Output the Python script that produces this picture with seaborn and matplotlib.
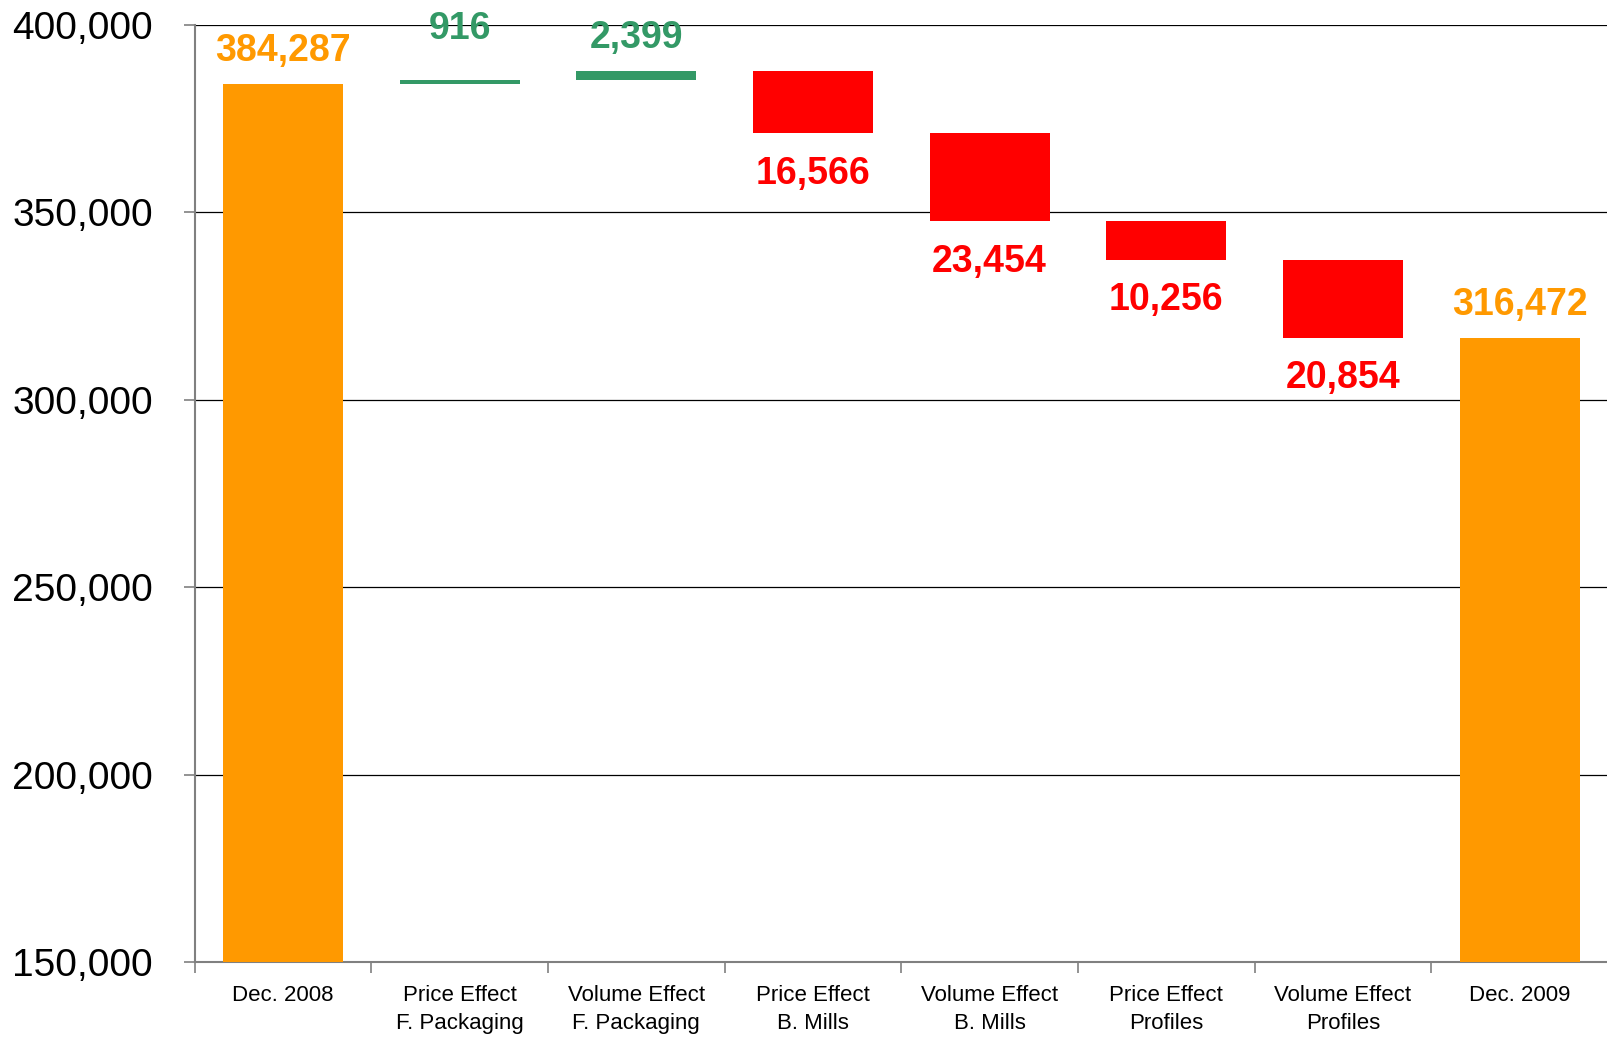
import matplotlib
matplotlib.use("Agg")
import matplotlib.pyplot as plt
import seaborn as sns
import numpy as np
import pandas as pd

categories = ["Dec. 2008", "Price Effect\nF. Packaging", "Volume Effect\nF. Packaging",
              "Price Effect\nB. Mills", "Volume Effect\nB. Mills", "Price Effect\nProfiles",
              "Volume Effect\nProfiles", "Dec. 2009"]
start_value = 384287
changes = [916, 2399, -16566, -23454, -10256, -20854]
end_value = 316472
y_ticks = [150000, 200000, 250000, 300000, 350000, 400000]

ORANGE = "#FF9900"
GREEN = "#339966"
RED = "#FF0000"

# build bar bottoms/heights for the waterfall
bottoms, heights, kinds = [0], [start_value], ["total"]
running = start_value
for c in changes:
    if c >= 0:
        bottoms.append(running)
        heights.append(c)
        kinds.append("up")
    else:
        bottoms.append(running + c)
        heights.append(-c)
        kinds.append("down")
    running += c
bottoms.append(0)
heights.append(end_value)
kinds.append("total")
labels = [start_value] + [abs(c) for c in changes] + [end_value]

df = pd.DataFrame({"cat": categories, "bottom": bottoms, "height": heights,
                   "kind": kinds, "label": labels})
colors = {"total": ORANGE, "up": GREEN, "down": RED}

plt.rcParams['font.family'] = ['Liberation Sans', 'DejaVu Sans']
fig = plt.figure(figsize=(16.08, 10.37), dpi=100)
ax = fig.add_axes([0.121, 0.072, 0.879, 0.904])

for i, row in df.iterrows():
    sns.barplot(x=[row["cat"]], y=[row["height"]], order=categories, bottom=row["bottom"],
                color=colors[row["kind"]], saturation=1, width=0.68, errorbar=None,
                ax=ax, zorder=3, linewidth=0)
    top = row["bottom"] + row["height"]
    txt = f"{row['label']:,}"
    if row["kind"] == "down":
        ax.annotate(txt, (i, row["bottom"]), xytext=(0, -16), textcoords="offset points",
                    ha="center", va="top", fontsize=27, fontweight="bold",
                    color=colors[row["kind"]], zorder=4)
    else:
        # tiny bars get their label pushed a little higher, as in the original
        lift = 24 if row["height"] < 1500 else 11
        ax.annotate(txt, (i, top), xytext=(0, lift), textcoords="offset points",
                    ha="center", va="bottom", fontsize=27, fontweight="bold",
                    color=colors[row["kind"]], zorder=4)

ax.set_ylim(150000, 400000)
ax.set_xlim(-0.5, len(categories) - 0.5)
ax.set_yticks(y_ticks)
ax.set_yticklabels([f"{v:,}" for v in y_ticks], fontsize=28)
ax.yaxis.grid(True, color="black", linewidth=0.9)
ax.set_axisbelow(True)

# category boundary ticks, labels centred on bars
ax.set_xticks(np.arange(-0.5, len(categories), 1.0))
ax.set_xticklabels([])
ax.set_xticks(np.arange(len(categories)), minor=True)
ax.set_xticklabels(categories, minor=True, fontsize=16, linespacing=1.45)
ax.tick_params(axis="x", which="major", length=8, color="#808080", width=1.2)
ax.tick_params(axis="x", which="minor", length=0, pad=16)
ax.tick_params(axis="y", length=8, color="#808080", width=1.2, pad=22)
ax.set_xlabel("")
ax.set_ylabel("")

for s in ["top", "right"]:
    ax.spines[s].set_visible(False)
for s in ["left", "bottom"]:
    ax.spines[s].set_color("#808080")
    ax.spines[s].set_linewidth(1.5)

fig.savefig("out.png", dpi=100)
